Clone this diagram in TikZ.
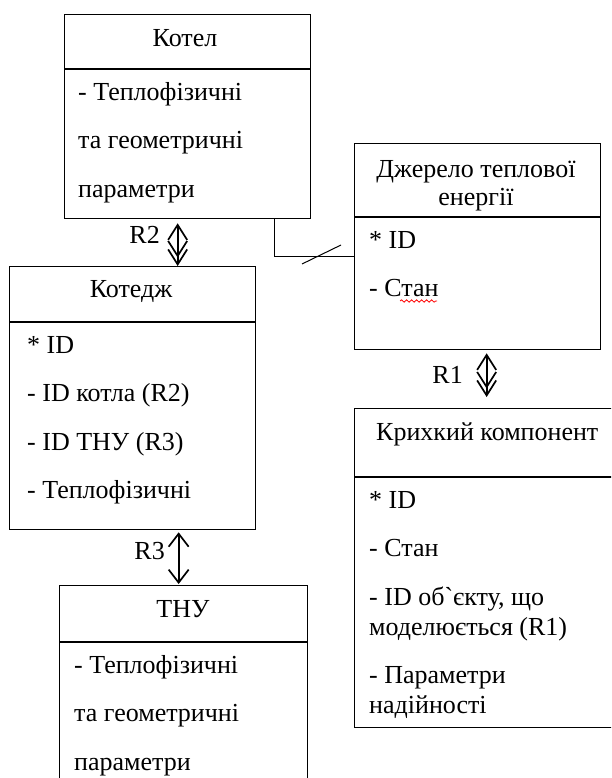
\documentclass[tikz,border=0pt]{standalone}
\usepackage{fontspec}
\setmainfont{Liberation Serif}
\usetikzlibrary{arrows.meta,decorations.pathmorphing}
\begin{document}
\begin{tikzpicture}[x=1pt,y=-1pt,
  cls/.style={draw, line width=1.3pt, anchor=north west, inner sep=0pt, minimum width=246pt},
  ttl/.style={anchor=base, align=center, inner sep=0pt, font=\fontsize{26}{28}\selectfont},
  attr/.style={anchor=base west, align=left, inner sep=0pt, font=\fontsize{26}{30}\selectfont},
  lbl/.style={anchor=base east, inner sep=0pt, font=\fontsize{26}{30}\selectfont},
  rel/.style={line width=1.7pt},
  relone/.style={rel, {Straight Barb[width=20pt,length=13pt]}-{Straight Barb[width=20pt,length=13pt]}},
  relmany/.style={rel, {Straight Barb[width=19pt,length=15pt]}-{Straight Barb[width=19pt,length=15pt,sep=-9pt]Straight Barb[width=19pt,length=15pt]}}]
\useasboundingbox (0,0) rectangle (611,778);
\clip (0,0) rectangle (611,778);
\node[cls, minimum height=204pt] (kotel) at (64,14){};
\draw[line width=1.3pt] ([yshift=-55pt]kotel.north west) -- ([yshift=-55pt]kotel.north east);
\node[ttl] (kotel-n) at (185,47){Котел};
\node[attr] (kotel-a) at (78,197){- Теплофізичні\\[18.5pt]та геометричні\\[18.5pt]параметри};
\node[cls, minimum height=206pt] (dzherelo) at (354,143){};
\draw[line width=1.3pt] ([yshift=-74pt]dzherelo.north west) -- ([yshift=-74pt]dzherelo.north east);
\node[ttl] (dzherelo-n) at (476,205){Джерело теплової\\енергії};
\node[attr] (dzherelo-a) at (369,296.5){* ID\\[18.5pt]- Стан};
\draw[red, line width=0.8pt, decorate, decoration={snake, amplitude=1.2pt, segment length=5pt}] (400,301) -- (437,301);
\node[cls, minimum height=263pt] (kotedzh) at (9,266){};
\draw[line width=1.3pt] ([yshift=-56pt]kotedzh.north west) -- ([yshift=-56pt]kotedzh.north east);
\node[ttl] (kotedzh-n) at (131,297){Котедж};
\node[attr] (kotedzh-a) at (27,498.5){* ID\\[18.5pt]- ID котла (R2)\\[18.5pt]- ID ТНУ (R3)\\[18.5pt]- Теплофізичні};
\node[cls, minimum width=248pt, minimum height=220pt] (tnu) at (59,585){};
\draw[line width=1.3pt] ([yshift=-57pt]tnu.north west) -- ([yshift=-57pt]tnu.north east);
\node[ttl] (tnu-n) at (183,617){ТНУ};
\node[attr] (tnu-a) at (74,770){- Теплофізичні\\[18.5pt]та геометричні\\[18.5pt]параметри};
\node[cls, minimum width=262pt, minimum height=319pt] (kryhk) at (354,408){};
\draw[line width=1.3pt] ([yshift=-69pt]kryhk.north west) -- ([yshift=-69pt]kryhk.north east);
\node[ttl, anchor=base west] (kryhk-n) at (376,440){Крихкий компонент};
\node[attr] (kryhk-a) at (369,713.5){* ID\\[18.5pt]- Стан\\[18.5pt]- ID об\textasciigrave єкту, що\\моделюється (R1)\\[18.5pt]- Параметри\\надійності};
\draw[line width=1pt] ([xshift=87pt]kotel.south) |- ([yshift=-10pt]dzherelo.west);
\draw[line width=1pt] (302,264) -- (341,245);
\draw[relmany, shorten <=4pt] ([xshift=-10pt]kotel.south) -- ([xshift=45pt]kotedzh.north);
\node[lbl] (r2) at (160,243){R2};
\draw[relmany, shorten <=3pt, shorten >=11pt] ([xshift=9pt]dzherelo.south) -- ([xshift=9pt]dzherelo.south |- kryhk.north);
\node[lbl] (r1) at (463,383){R1};
\draw[relone, shorten <=2pt, shorten >=1pt] ([xshift=46pt]kotedzh.south) -- ([xshift=-5pt]tnu.north);
\node[lbl] (r3) at (165,559){R3};
\end{tikzpicture}
\end{document}
